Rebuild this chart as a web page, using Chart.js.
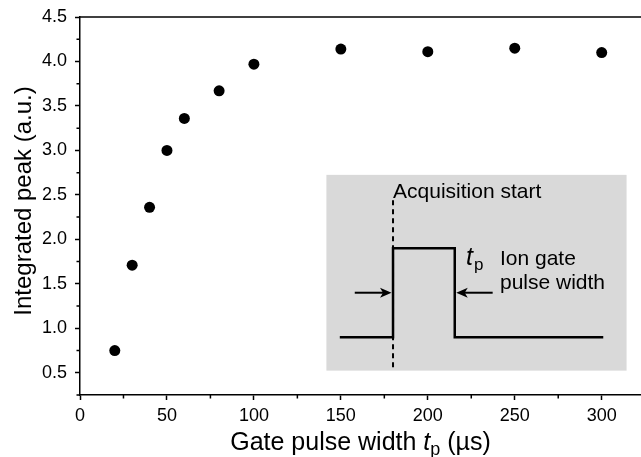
<!DOCTYPE html>
<html>
<head>
<meta charset="utf-8">
<script src="https://cdn.jsdelivr.net/npm/chart.js@4/dist/chart.umd.min.js"></script>
<style>
  html, body { margin: 0; padding: 0; background: #fff; }
  #wrap { width: 641px; height: 457px; }
</style>
</head>
<body>
<div id="wrap"><canvas id="chart"></canvas></div>
<script>
// Integrated peak vs. gate pulse width
const pulseWidths = [20, 30, 40, 50, 60, 80, 100, 150, 200, 250, 300];
const peakValues = [0.75, 1.71, 2.36, 3.00, 3.36, 3.67, 3.97, 4.14, 4.11, 4.15, 4.10];

const xTickLabels = [0, 50, 100, 150, 200, 250, 300];
const yTickLabels = [0.5, 1.0, 1.5, 2.0, 2.5, 3.0, 3.5, 4.0, 4.5];

const FONT = "'Liberation Sans', Arial, sans-serif";

// major ticks plus one minor tick halfway between each pair
function withMinors(majors, lo, hi) {
  const half = (majors[1] - majors[0]) / 2;
  const out = [];
  majors.forEach(v => { out.push(v - half, v); });
  out.push(majors[majors.length - 1] + half);
  return out.filter(v => v >= lo - 1e-9 && v <= hi + 1e-9).map(v => ({ value: v }));
}

// Draws the frame bits Chart.js can't: top border, short minor ticks, axis titles
const frame = {
  id: "frame",
  afterDraw(chart) {
    const { ctx, chartArea: a, scales: { x, y } } = chart;
    ctx.save();
    ctx.strokeStyle = "#000";
    ctx.lineWidth = 1.5;
    ctx.beginPath();
    ctx.moveTo(a.left, a.top);
    ctx.lineTo(chart.width, a.top);
    ctx.stroke();

    // minor ticks (short, outward)
    ctx.beginPath();
    x.ticks.forEach(t => {
      if (xTickLabels.includes(t.value)) return;
      const px = x.getPixelForValue(t.value);
      ctx.moveTo(px, a.bottom);
      ctx.lineTo(px, a.bottom + 3.5);
    });
    y.ticks.forEach(t => {
      if (yTickLabels.includes(t.value)) return;
      const py = y.getPixelForValue(t.value);
      ctx.moveTo(a.left, py);
      ctx.lineTo(a.left - 3.5, py);
    });
    ctx.stroke();

    // x title with italic t and subscript p
    ctx.fillStyle = "#000";
    ctx.textBaseline = "alphabetic";
    const parts = [
      { s: "Gate pulse width ", f: `25px ${FONT}`, dy: 0 },
      { s: "t", f: `italic 25px ${FONT}`, dy: 0 },
      { s: "p", f: `18px ${FONT}`, dy: 5 },
      { s: " (\u00b5s)", f: `25px ${FONT}`, dy: 0 }
    ];
    let w = 0;
    parts.forEach(p => { ctx.font = p.f; w += ctx.measureText(p.s).width; });
    let cx = (a.left + chart.width) / 2 - w / 2;
    parts.forEach(p => {
      ctx.font = p.f;
      ctx.fillText(p.s, cx, 450 + p.dy);
      cx += ctx.measureText(p.s).width;
    });

    // y title
    ctx.translate(31, (a.top + a.bottom) / 2 - 5);
    ctx.rotate(-Math.PI / 2);
    ctx.font = `24px ${FONT}`;
    ctx.textAlign = "center";
    ctx.fillText("Integrated peak (a.u.)", 0, 0);
    ctx.restore();
  }
};

// Gray inset with the gate pulse timing sketch, laid out in axis units
const inset = {
  id: "inset",
  beforeDatasetsDraw(chart) {
    const { ctx, scales: { x, y } } = chart;
    const X = v => x.getPixelForValue(v);
    const Y = v => y.getPixelForValue(v);
    ctx.save();

    ctx.fillStyle = "#d9d9d9";
    ctx.fillRect(X(141.7), Y(2.725), X(314.3) - X(141.7), Y(0.524) - Y(2.725));

    // pulse
    ctx.strokeStyle = "#000";
    ctx.lineWidth = 2.5;
    ctx.lineJoin = "miter";
    ctx.beginPath();
    ctx.moveTo(X(149.4), Y(0.9));
    ctx.lineTo(X(180), Y(0.9));
    ctx.lineTo(X(180), Y(1.9));
    ctx.lineTo(X(215.5), Y(1.9));
    ctx.lineTo(X(215.5), Y(0.9));
    ctx.lineTo(X(300.9), Y(0.9));
    ctx.stroke();

    // acquisition start marker
    ctx.lineWidth = 2;
    ctx.setLineDash([5, 4]);
    ctx.beginPath();
    ctx.moveTo(X(180), Y(2.44));
    ctx.lineTo(X(180), Y(0.53));
    ctx.stroke();
    ctx.setLineDash([]);

    // arrows pointing at the pulse edges
    const arrow = (from, to, yv) => {
      const y0 = Y(yv), x0 = X(from), x1 = X(to);
      const dir = Math.sign(x1 - x0);
      ctx.lineWidth = 2;
      ctx.beginPath();
      ctx.moveTo(x0, y0);
      ctx.lineTo(x1 - dir * 8, y0);
      ctx.stroke();
      ctx.beginPath();
      ctx.moveTo(x1 - dir * 1.5, y0);
      ctx.lineTo(x1 - dir * 13, y0 - 5);
      ctx.lineTo(x1 - dir * 10, y0);
      ctx.lineTo(x1 - dir * 13, y0 + 5);
      ctx.closePath();
      ctx.fill();
    };
    ctx.fillStyle = "#000";
    arrow(158, 180, 1.4);
    arrow(237.3, 215.5, 1.4);

    ctx.textBaseline = "alphabetic";
    ctx.font = `21px ${FONT}`;
    ctx.fillText("Acquisition start", X(180), Y(2.46));
    ctx.fillText("Ion gate", X(241.5), Y(1.712));
    ctx.fillText("pulse width", X(241.5), Y(1.44));
    ctx.font = `italic 25px ${FONT}`;
    ctx.fillText("t", X(222), Y(1.712));
    const tw = ctx.measureText("t").width;
    ctx.font = `17px ${FONT}`;
    ctx.fillText("p", X(222) + tw + 1, Y(1.712) + 5);
    ctx.restore();
  }
};

new Chart(document.getElementById("chart"), {
  type: "scatter",
  data: {
    datasets: [{
      data: pulseWidths.map((v, i) => ({ x: v, y: peakValues[i] })),
      backgroundColor: "#000",
      borderWidth: 0,
      pointRadius: 5.5,
      pointHoverRadius: 5.5
    }]
  },
  options: {
    responsive: true,
    maintainAspectRatio: false,
    animation: false,
    events: [],
    layout: { autoPadding: false, padding: { top: 17, right: 0, left: 0, bottom: 0 } },
    plugins: { legend: { display: false }, tooltip: { enabled: false } },
    scales: {
      x: {
        type: "linear",
        min: 0,
        max: 322.6,
        afterFit: s => { s.height = 62; s.paddingLeft = 0; s.paddingRight = 0; },
        afterBuildTicks: s => { s.ticks = withMinors(xTickLabels, 0, 322.6); },
        border: { display: true, color: "#000", width: 1.5 },
        grid: {
          drawOnChartArea: false,
          tickLength: 5,
          tickWidth: 1.5,
          tickColor: c => (c.tick && xTickLabels.includes(c.tick.value)) ? "#000" : "rgba(0,0,0,0)"
        },
        ticks: {
          padding: 5,
          color: "#000",
          maxRotation: 0,
          autoSkip: false,
          font: { family: FONT, size: 18 },
          callback: v => xTickLabels.includes(v) ? String(v) : ""
        }
      },
      y: {
        min: 0.25,
        max: 4.5,
        afterFit: s => { s.width = 80; s.paddingTop = 0; s.paddingBottom = 0; },
        afterBuildTicks: s => { s.ticks = withMinors(yTickLabels, 0.25, 4.5); },
        border: { display: true, color: "#000", width: 1.5 },
        grid: {
          drawOnChartArea: false,
          tickLength: 5,
          tickWidth: 1.5,
          tickColor: c => (c.tick && yTickLabels.includes(c.tick.value)) ? "#000" : "rgba(0,0,0,0)"
        },
        ticks: {
          padding: 8,
          color: "#000",
          autoSkip: false,
          font: { family: FONT, size: 18 },
          callback: v => yTickLabels.includes(v) ? v.toFixed(1) : ""
        }
      }
    }
  },
  plugins: [inset, frame]
});
</script>
</body>
</html>
